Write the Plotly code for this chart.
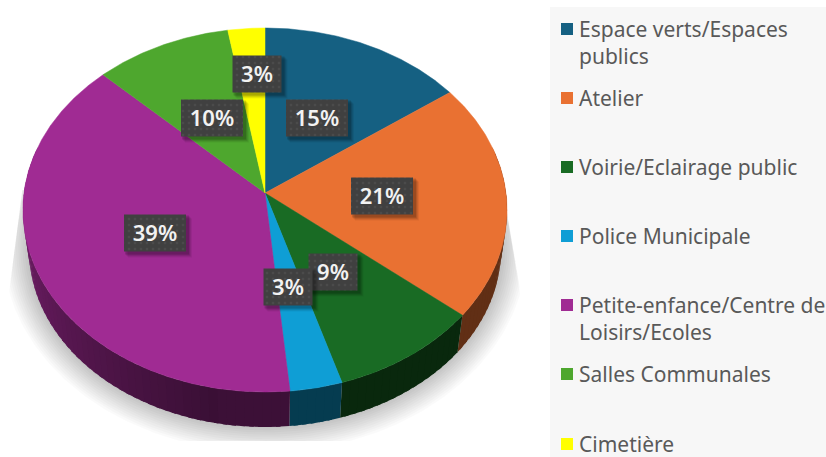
import math
import numpy as np
import plotly.graph_objects as go

# ---- data ----
categories = ["Espace verts/Espaces publics", "Atelier", "Voirie/Eclairage public",
              "Police Municipale", "Petite-enfance/Centre de Loisirs/Ecoles",
              "Salles Communales", "Cimetière"]
values = [15.0, 21.0, 9.3, 3.2, 38.8, 10.0, 2.7]
colors = ["#156082", "#E97132", "#196B24", "#0F9ED5", "#A02B93", "#4EA72E", "#FFFF00"]
legend_lines = [["Espace verts/Espaces", "publics"], ["Atelier"], ["Voirie/Eclairage public"],
                ["Police Municipale"], ["Petite-enfance/Centre de", "Loisirs/Ecoles"],
                ["Salles Communales"], ["Cimetière"]]

# ---- layout parameters (pixels) ----
W, H = 826, 457
CX, CY = 265, 193          # pie centre on the top face
RX, RY, K = 241, 180.4, 0.0934   # perspective projection of the disc
BASE_SCALE, BASE_CY = 0.975, 233 # lower rim of the wall
label_centres = [(317, 118), (382, 196), (333, 272), (288, 287), (155, 233), (212, 118), (257, 74)]
legend_text_y = [[29, 56], [98], [167], [236], [305, 332], [374], [444]]
legend_marker_x, legend_text_x = 567, 577


def rim(deg, scale=1.0, cy=CY):
    a = np.radians(deg)
    w = 1 + K * np.cos(a)
    return CX + scale * RX * np.sin(a) / w, cy - scale * RY * np.cos(a) / w


def hex_rgb(h):
    return tuple(int(h[i:i + 2], 16) for i in (1, 3, 5))


def wall_shade(deg):
    if deg <= 130:
        return 0.42
    if deg <= 190:
        return 0.38
    return 0.36 + (min(deg, 270) - 190) / 80 * 0.36


fig = go.Figure()


def poly(xs, ys, fill, **kw):
    fig.add_trace(go.Scatter(x=list(xs), y=list(ys), mode="lines", fill="toself", fillcolor=fill,
                             line=dict(width=0), hoverinfo="skip", showlegend=False, **kw))


# legend panel
fig.add_shape(type="rect", x0=550, x1=W, y0=7, y1=H, fillcolor="#F7F7F7", line_width=0, layer="below")

# soft shadow, clipped like the reference
t = np.radians(np.linspace(0, 360, 361))
N = 14
for i in range(N):
    f = i / (N - 1)
    rx = 262 - 28 * f
    ry = 204 - 28 * f
    xs = 265 + rx * np.sin(t)
    ys = 248 - ry * np.cos(t)
    ys = np.maximum(ys, 190)
    ys = np.minimum(ys, 441)
    xl = 17 + (ys - 230) / 70 * (8 - 17)
    xr = 510 + (ys - 230) / 70 * (522 - 510)
    xs = np.minimum(np.maximum(xs, xl), xr)
    poly(xs, ys, "rgba(0,0,0,0.021)")

# side walls
cum = np.cumsum([0] + values) / sum(values) * 360
for v0, v1, col in zip(cum[:-1], cum[1:], colors):
    lo, hi = max(v0, 75), min(v1, 285)
    if hi <= lo:
        continue
    n = max(1, int(math.ceil((hi - lo) / 2)))
    edges = np.linspace(lo, hi, n + 1)
    r, g, b = hex_rgb(col)
    for e0, e1 in zip(edges[:-1], edges[1:]):
        s = wall_shade((e0 + e1) / 2)
        c = f"rgb({int(r * s)},{int(g * s)},{int(b * s)})"
        seg = np.linspace(e0, min(e1 + 1.0, hi), 4)  # slight overlap hides seams
        xa, ya = rim(seg)
        xb, yb = rim(seg[::-1], BASE_SCALE, BASE_CY)
        poly(np.r_[xa, xb], np.r_[ya, yb], c)

# top faces
for v0, v1, col in zip(cum[:-1], cum[1:], colors):
    seg = np.linspace(v0, v1, max(3, int(v1 - v0) * 2))
    xa, ya = rim(seg)
    fig.add_trace(go.Scatter(x=np.r_[CX, xa, CX], y=np.r_[CY, ya, CY], mode="lines", fill="toself",
                             fillcolor=col, line=dict(width=0.5, color=col),
                             hoverinfo="skip", showlegend=False))

# data label boxes with dotted pattern + shadow
texts = [f"{round(v / sum(values) * 100)}%" for v in values]
for (lx, ly), txt in zip(label_centres, texts):
    hw = 31 if len(txt) == 3 else 24.5
    hh = 18.5
    for d, al in ((6, .06), (5, .08), (4, .10), (3, .14)):
        poly([lx - hw + d - 2, lx + hw + d, lx + hw + d, lx - hw + d - 2, lx - hw + d - 2],
             [ly - hh + d - 2, ly - hh + d - 2, ly + hh + d, ly + hh + d, ly - hh + d - 2],
             f"rgba(0,0,0,{al})")
    fig.add_trace(go.Scatter(
        x=[lx - hw, lx + hw, lx + hw, lx - hw, lx - hw],
        y=[ly - hh, ly - hh, ly + hh, ly + hh, ly - hh],
        mode="lines", fill="toself", fillcolor="#404040", line=dict(width=0),
        fillpattern=dict(shape=".", bgcolor="#404040", fgcolor="#565656", size=6, solidity=0.15),
        hoverinfo="skip", showlegend=False))
    fig.add_trace(go.Scatter(x=[lx], y=[ly + 2], mode="text", text=[txt], textposition="middle center",
                             textfont=dict(family="Noto Sans", size=22, color="#F2F2F2", weight=600),
                             hoverinfo="skip", showlegend=False))

# legend
for name, lines, ys, col in zip(categories, legend_lines, legend_text_y, colors):
    fig.add_trace(go.Scatter(x=[legend_marker_x], y=[ys[0]], mode="markers",
                             marker=dict(symbol="square", size=12, color=col),
                             name=name, hoverinfo="skip", showlegend=False))
    for line, y in zip(lines, ys):
        fig.add_annotation(x=legend_text_x, y=y, text=line, showarrow=False, xanchor="left", yanchor="middle",
                           font=dict(family="Noto Sans", size=21, color="#595959"))

fig.update_layout(
    width=W, height=H, margin=dict(l=0, r=0, t=0, b=0), autosize=False,
    paper_bgcolor="white", plot_bgcolor="white", showlegend=False,
    xaxis=dict(range=[0, W], visible=False, fixedrange=True),
    yaxis=dict(range=[H, 0], visible=False, fixedrange=True),
)
fig.write_html("out.html", config=dict(displayModeBar=False),
               post_script="document.body.style.margin='0';document.body.style.overflow='hidden';")
